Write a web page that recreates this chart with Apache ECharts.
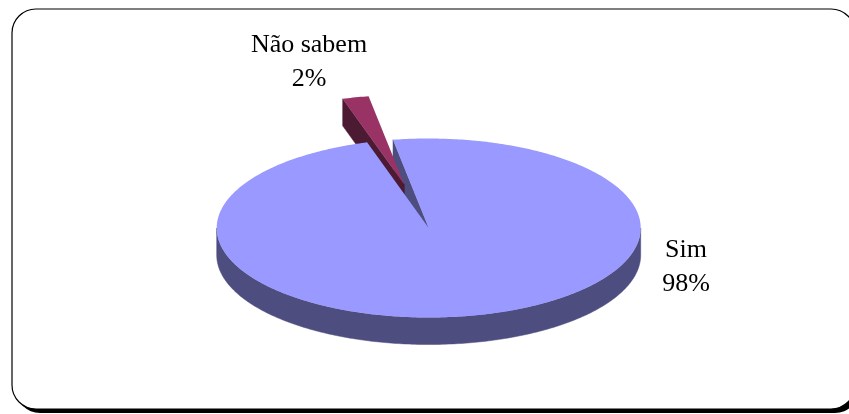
<!DOCTYPE html>
<html>
<head>
<meta charset="utf-8">
<script src="https://cdn.jsdelivr.net/npm/echarts@6/dist/echarts.min.js"></script>
<style>
  html, body { margin: 0; padding: 0; background: #fff; }
  #chart { width: 849px; height: 414px; }
</style>
</head>
<body>
<div id="chart"></div>
<script>
// Answers and their shares (%)
const categories = ['Sim', 'Não sabem'];
const values = [98, 2];
// how far each slice is pulled out, as a fraction of the radius
const explode = [0, 0.5];

// 3D pie geometry (pixels) and styling
const pie = { cx: 428.7, cy: 228, rx: 212, ry: 89.5, depth: 27, startAngle: 99.7 };
const topColors = ['#9999ff', '#993366'];
const sideColors = ['#4d4d80', '#4d1a33'];
const labelAnchors = [[686, 267], [309, 62]];
const labelFont = '26px "Liberation Serif", "Times New Roman", serif';

// angular extent of every slice, clockwise from the start angle
const total = values.reduce((a, b) => a + b, 0);
const slices = [];
let cursor = pie.startAngle;
values.forEach((v, i) => {
  const a0 = cursor;
  const a1 = cursor - 360 * v / total;
  const mid = (a0 + a1) / 2 * Math.PI / 180;
  slices.push({
    a0, a1,
    ox: explode[i] * pie.rx * Math.cos(mid),
    oy: -explode[i] * pie.ry * Math.sin(mid)
  });
  cursor = a1;
});

const rad = d => d * Math.PI / 180;
function pt(s, ang, r, level) {
  return [
    pie.cx + s.ox + r * pie.rx * Math.cos(rad(ang)),
    pie.cy + s.oy - r * pie.ry * Math.sin(rad(ang)) + level * pie.depth
  ];
}
function arc(s, from, to, level) {
  const n = Math.max(2, Math.ceil(Math.abs(from - to) / 0.75) + 1);
  const out = [];
  for (let k = 0; k < n; k++) {
    out.push(pt(s, from + (to - from) * k / (n - 1), 1, level));
  }
  return out;
}

function renderItem(params, api) {
  const i = params.dataIndex;
  const s = slices[i];
  const children = [];

  // curved outer wall: only the part facing the viewer
  for (let k = -2; k <= 1; k++) {
    const hi = Math.min(s.a0, 360 * k);
    const lo = Math.max(s.a1, -180 + 360 * k);
    if (lo < hi) {
      const topArc = arc(s, hi, lo, 0);
      const botArc = arc(s, lo, hi, 1);
      children.push({
        type: 'polygon', z2: 1,
        shape: { points: topArc.concat(botArc) },
        style: { fill: sideColors[i], stroke: sideColors[i], lineWidth: 0.5 }
      });
    }
  }

  // flat cut faces along the radii
  const faces = [];
  if (Math.cos(rad(s.a0)) < 0) faces.push(s.a0);
  if (Math.cos(rad(s.a1)) > 0) faces.push(s.a1);
  faces.forEach(a => {
    children.push({
      type: 'polygon', z2: 1,
      shape: { points: [pt(s, a, 0, 0), pt(s, a, 1, 0), pt(s, a, 1, 1), pt(s, a, 0, 1)] },
      style: { fill: sideColors[i], stroke: sideColors[i], lineWidth: 0.5 }
    });
  });

  // top face
  children.push({
    type: 'polygon', z2: 2,
    shape: { points: [pt(s, 0, 0, 0)].concat(arc(s, s.a0, s.a1, 0)) },
    style: { fill: topColors[i] }
  });

  // data label
  children.push({
    type: 'text', z2: 3,
    x: labelAnchors[i][0], y: labelAnchors[i][1],
    style: {
      text: categories[i] + '\n' + api.value(0) + '%',
      font: labelFont,
      fill: '#000',
      align: 'center',
      verticalAlign: 'middle',
      lineHeight: 34
    }
  });

  return { type: 'group', children };
}

const chart = echarts.init(document.getElementById('chart'), null, { renderer: 'canvas' });
chart.setOption({
  animation: false,
  backgroundColor: '#fff',
  graphic: [
    // drop shadow of the chart area
    {
      type: 'rect', z: 0, z2: 0,
      shape: { x: 16, y: 13, width: 843, height: 400, r: 24 },
      style: { fill: '#000' }
    },
    // chart area frame
    {
      type: 'rect', z: 0, z2: 1,
      shape: { x: 12, y: 9, width: 843, height: 400, r: 24 },
      style: { fill: '#fff', stroke: '#000', lineWidth: 1.2 }
    }
  ],
  series: [{
    type: 'custom',
    coordinateSystem: 'none',
    z: 2,
    renderItem,
    data: values
  }]
});
</script>
</body>
</html>
